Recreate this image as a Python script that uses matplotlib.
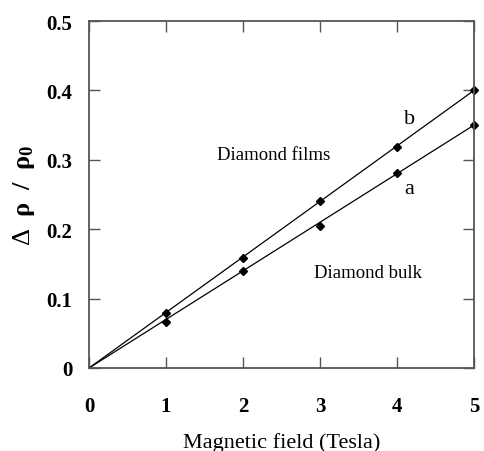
import matplotlib
matplotlib.use("Agg")
import matplotlib.pyplot as plt
from matplotlib.ticker import FixedLocator

# data
field = [1, 2, 3, 4, 5]
films_b = [0.079, 0.158, 0.241, 0.319, 0.400]
bulk_a = [0.067, 0.140, 0.204, 0.281, 0.350]
fit_x = [0, 5]
fit_b = [0, 0.400]
fit_a = [0, 0.350]
xticks = [0, 1, 2, 3, 4, 5]
yticks = [0, 0.1, 0.2, 0.3, 0.4, 0.5]
ytick_labels = ["0", "0.1", "0.2", "0.3", "0.4", "0.5"]

plt.rcParams['font.family'] = ['Liberation Serif', 'DejaVu Serif']
plt.rcParams['mathtext.fontset'] = 'custom'
plt.rcParams['mathtext.rm'] = 'Liberation Serif'
plt.rcParams['mathtext.it'] = 'Liberation Serif:italic'
plt.rcParams['mathtext.bf'] = 'Liberation Serif:bold'

fig = plt.figure(figsize=(4.85, 4.52), dpi=100)
ax = fig.add_axes([89/485, 1-369/452, (474-89)/485, (369-22)/452])

ax.plot(fit_x, fit_b, color='black', lw=0.9)
ax.plot(fit_x, fit_a, color='black', lw=0.9)
ax.plot(field, films_b, linestyle='none', marker='D', ms=4, color='black', clip_on=False)
ax.plot(field, bulk_a, linestyle='none', marker='D', ms=4, color='black', clip_on=False)

ax.set_xlim(0, 5)
ax.set_ylim(0, 0.5)
ax.xaxis.set_major_locator(FixedLocator(xticks))
ax.yaxis.set_major_locator(FixedLocator(yticks))
ax.set_yticklabels(ytick_labels)
for s in ax.spines.values():
    s.set_color('#555555')
    s.set_linewidth(1.3)
ax.tick_params(direction='in', length=8, width=1, color='#555555',
               top=True, right=True, labelsize=15)
ax.tick_params(axis='x', pad=20)
ax.tick_params(axis='y', pad=12)
for lab in ax.get_xticklabels() + ax.get_yticklabels():
    lab.set_fontweight('bold')

ax.text(1.66, 0.308, "Diamond films", fontsize=13.5, va='center', ha='left')
ax.text(2.92, 0.138, "Diamond bulk", fontsize=13.5, va='center', ha='left')
ax.text(4.16, 0.359, "b", fontsize=16, va='center', ha='center')
ax.text(4.16, 0.258, "a", fontsize=16, va='center', ha='center')

ax.set_xlabel("Magnetic field (Tesla)", fontsize=16, labelpad=12)
ax.set_ylabel(r"$\mathrm{\Delta}\ \ \mathbf{\rho\ \ /\ \ \rho_0}$", fontsize=19, labelpad=7)

fig.savefig("out.png", dpi=100)
